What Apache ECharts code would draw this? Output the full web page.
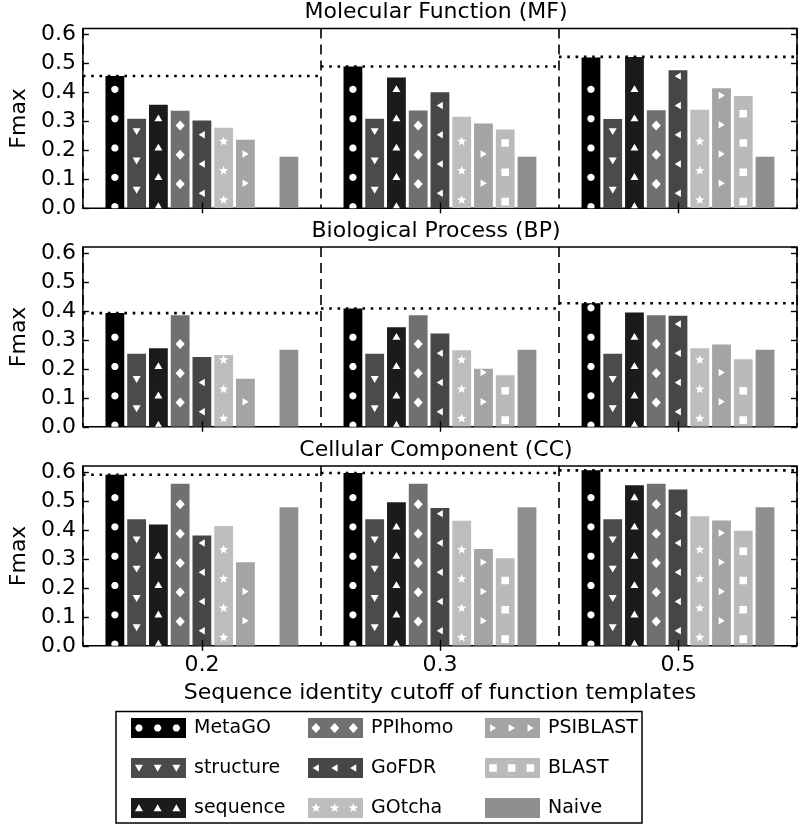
<!DOCTYPE html>
<html><head><meta charset="utf-8">
<script src="https://cdn.jsdelivr.net/npm/echarts@6/dist/echarts.min.js"></script>
<style>html,body{margin:0;padding:0;background:#fff}#c{width:800px;height:826px}</style>
</head><body><div id="c"></div>
<script>
// ---------------- data ----------------
const categories = ['0.2', '0.3', '0.5'];
const methods = ['MetaGO', 'structure', 'sequence', 'PPIhomo', 'GoFDR', 'GOtcha', 'PSIBLAST', 'BLAST', 'Naive'];
const panelTitles = ['Molecular Function (MF)', 'Biological Process (BP)', 'Cellular Component (CC)'];
const yAxisName = 'Fmax';
const xAxisName = 'Sequence identity cutoff of function templates';
const yMin = 0, yMax = 0.62, yStep = 0.1;

// rows follow `methods`, columns follow `categories`
const mfScores = [
  [0.456, 0.489, 0.520],
  [0.309, 0.309, 0.308],
  [0.357, 0.451, 0.522],
  [0.336, 0.337, 0.338],
  [0.303, 0.400, 0.476],
  [0.278, 0.316, 0.340],
  [0.236, 0.292, 0.414],
  [0.000, 0.272, 0.387],
  [0.178, 0.178, 0.178]
];
const bpScores = [
  [0.392, 0.408, 0.426],
  [0.252, 0.252, 0.252],
  [0.271, 0.343, 0.394],
  [0.385, 0.385, 0.385],
  [0.241, 0.322, 0.383],
  [0.248, 0.264, 0.271],
  [0.166, 0.200, 0.284],
  [0.000, 0.178, 0.233],
  [0.266, 0.266, 0.266]
];
const ccScores = [
  [0.590, 0.596, 0.605],
  [0.436, 0.436, 0.436],
  [0.418, 0.495, 0.554],
  [0.559, 0.559, 0.559],
  [0.380, 0.475, 0.539],
  [0.413, 0.431, 0.447],
  [0.288, 0.334, 0.432],
  [0.000, 0.302, 0.397],
  [0.478, 0.478, 0.478]
];
const panels = [mfScores, bpScores, ccScores];

// ---------------- styles ----------------
const FONT = 'DejaVu Sans';
const colors = ['#000000', '#4b4b4b', '#1b1b1b', '#707070', '#464646', '#bdbdbd', '#a4a4a4', '#bababa', '#8f8f8f'];
const markerTypes = ['circle', 'triDown', 'triUp', 'diamond', 'triLeft', 'star', 'triRight', 'square', null];
const markerPhase = [1.7, 18.3, 2.3, 24.3, 15, 8.3, 25, 6.7, 0]; // px above baseline
const markerHalf = [3.6, 3.6, 3.6, 5, 3.7, 5, 3.7, 3.9, 0];
const gridTops = [28.5, 247, 466];
const gridH = 179.8, gridLeft = 75, gridW = 722;

function markerPoints(type, cx, cy) {
  let pts = [];
  switch (type) {
    case 'circle':
      for (let i = 0; i < 20; i++) { const a = i / 20 * Math.PI * 2; pts.push([cx + 3.6 * Math.cos(a), cy + 3.6 * Math.sin(a)]); }
      break;
    case 'triDown': pts = [[cx - 4, cy - 3.2], [cx + 4, cy - 3.2], [cx, cy + 3.7]]; break;
    case 'triUp': pts = [[cx, cy - 3.7], [cx + 4, cy + 3.2], [cx - 4, cy + 3.2]]; break;
    case 'diamond': pts = [[cx, cy - 5], [cx + 4.6, cy], [cx, cy + 5], [cx - 4.6, cy]]; break;
    case 'triLeft': pts = [[cx - 3.3, cy], [cx + 2.9, cy - 3.7], [cx + 2.9, cy + 3.7]]; break;
    case 'triRight': pts = [[cx + 3.3, cy], [cx - 2.9, cy + 3.7], [cx - 2.9, cy - 3.7]]; break;
    case 'star':
      for (let i = 0; i < 10; i++) {
        const a = -Math.PI / 2 + i * Math.PI / 5, r = i % 2 ? 2.1 : 5;
        pts.push([cx + r * Math.cos(a), cy + r * Math.sin(a)]);
      }
      break;
    case 'square': pts = [[cx - 3.8, cy - 3.8], [cx + 3.8, cy - 3.8], [cx + 3.8, cy + 3.8], [cx - 3.8, cy + 3.8]]; break;
  }
  return pts;
}

function barRenderer(mIdx) {
  return function (params, api) {
    const cat = api.value(0), v = api.value(1);
    if (!(v > 0)) return null;
    const p0 = api.coord([cat, 0]);
    const p1 = api.coord([cat, v]);
    const band = api.size([1, 0])[0];
    const pitch = band * 0.0914, w = band * 0.079;
    const cx = p0[0] + (mIdx - 4) * pitch;
    const children = [{
      type: 'rect',
      shape: { x: cx - w / 2, y: p1[1], width: w, height: p0[1] - p1[1] },
      style: { fill: colors[mIdx] }
    }];
    const mk = markerTypes[mIdx];
    if (mk) {
      const step = api.size([0, 0.101])[1];
      for (let h = markerPhase[mIdx]; p0[1] - h - markerHalf[mIdx] >= p1[1]; h += step) {
        children.push({ type: 'polygon', shape: { points: markerPoints(mk, cx, p0[1] - h) }, style: { fill: '#fff' } });
      }
    }
    return { type: 'group', children: children };
  };
}

function bestRenderer(params, api) {
  const p = api.coord([api.value(0), api.value(1)]);
  const band = api.size([1, 0])[0];
  return {
    type: 'line',
    shape: { x1: p[0] - band / 2, y1: p[1], x2: p[0] + band / 2, y2: p[1] },
    style: { stroke: '#000', lineWidth: 2.6, lineDash: [2.6, 5.7] }
  };
}

// legend icon: rectangle with marker-shaped holes (counter-clockwise holes)
const ICON_W = 55, ICON_H = 20;
function iconPath(mIdx) {
  let d = 'M0 0H' + ICON_W + 'V' + ICON_H + 'H0Z';
  const mk = markerTypes[mIdx];
  if (mk) {
    [0.09, 0.43, 0.77].forEach(function (f) {
      let pts = markerPoints(mk, f * ICON_W + 3, ICON_H / 2);
      let s = 0;
      for (let i = 0; i < pts.length; i++) { const a = pts[i], b = pts[(i + 1) % pts.length]; s += a[0] * b[1] - b[0] * a[1]; }
      if (s > 0) pts = pts.slice().reverse();
      d += 'M' + pts.map(p => p[0].toFixed(2) + ' ' + p[1].toFixed(2)).join('L') + 'Z';
    });
  }
  return 'path://' + d;
}

// ---------------- option ----------------
const grid = [], xAxis = [], yAxis = [], series = [], title = [];
panels.forEach(function (scores, g) {
  grid.push({ left: gridLeft, top: gridTops[g], width: gridW, height: gridH, show: true, borderColor: '#000', borderWidth: 1.5, backgroundColor: 'transparent' });
  title.push({
    text: panelTitles[g], left: gridLeft + gridW / 2, top: gridTops[g] - 27, textAlign: 'center', padding: 0,
    textStyle: { fontFamily: FONT, fontSize: 22, fontWeight: 'normal', color: '#000' }
  });
  const isLast = g === panels.length - 1;
  xAxis.push({
    type: 'category', data: categories, gridIndex: g, position: 'bottom', z: 10,
    axisLine: { show: false },
    axisTick: { show: true, inside: true, alignWithLabel: true, length: 6, lineStyle: { color: '#000', width: 1.4 } },
    axisLabel: { show: isLast, color: '#000', fontFamily: FONT, fontSize: 22, margin: 8 },
    splitLine: { show: true, interval: 0, lineStyle: { color: '#000', width: 1.6, type: [10, 6] } },
    name: isLast ? xAxisName : '', nameLocation: 'middle', nameGap: 36,
    nameTextStyle: { color: '#000', fontFamily: FONT, fontSize: 22 }
  });
  xAxis.push({
    type: 'category', data: categories, gridIndex: g, position: 'top', z: 10,
    axisLine: { show: false },
    axisTick: { show: true, inside: true, alignWithLabel: true, length: 5, lineStyle: { color: '#000', width: 1.4 } },
    axisLabel: { show: false }, splitLine: { show: false }
  });
  yAxis.push({
    type: 'value', gridIndex: g, min: yMin, max: yMax, interval: yStep, position: 'left', z: 10,
    axisLine: { show: false },
    axisTick: { show: true, inside: true, length: 6, lineStyle: { color: '#000', width: 1.4 } },
    axisLabel: { color: '#000', fontFamily: FONT, fontSize: 22, margin: 7, showMaxLabel: false, formatter: v => v.toFixed(1) },
    splitLine: { show: false },
    name: yAxisName, nameLocation: 'middle', nameGap: 51,
    nameTextStyle: { color: '#000', fontFamily: FONT, fontSize: 22 }
  });
  yAxis.push({
    type: 'value', gridIndex: g, min: yMin, max: yMax, interval: yStep, position: 'right', z: 10,
    axisLine: { show: false },
    axisTick: { show: true, inside: true, length: 6, lineStyle: { color: '#000', width: 1.4 } },
    axisLabel: { show: false }, splitLine: { show: false }
  });
  methods.forEach(function (name, m) {
    series.push({
      type: 'custom', name: name, xAxisIndex: 2 * g, yAxisIndex: 2 * g, clip: true, z: 3,
      itemStyle: { color: colors[m] },
      encode: { x: 0, y: 1 },
      data: categories.map((c, i) => [i, scores[m][i]]),
      renderItem: barRenderer(m)
    });
  });
  series.push({
    type: 'custom', name: 'best', xAxisIndex: 2 * g, yAxisIndex: 2 * g, z: 6, silent: true,
    encode: { x: 0, y: 1 },
    data: categories.map((c, i) => [i, Math.max.apply(null, scores.map(r => r[i]))]),
    renderItem: bestRenderer
  });
});

const legendCols = [131, 308, 485];
const legend = legendCols.map(function (x, col) {
  return {
    orient: 'vertical', left: x, top: 718, padding: 0, itemGap: 20,
    itemWidth: ICON_W, itemHeight: ICON_H, selectedMode: false,
    itemStyle: { borderWidth: 0 },
    textStyle: { color: '#000', fontFamily: FONT, fontSize: 19, lineHeight: 20, padding: [0, 0, 0, 3] },
    data: methods.slice(col * 3, col * 3 + 3).map((n, k) => ({ name: n, icon: iconPath(col * 3 + k) }))
  };
});

const option = {
  animation: false,
  backgroundColor: '#fff',
  textStyle: { fontFamily: FONT },
  title: title,
  grid: grid, xAxis: xAxis, yAxis: yAxis, series: series, legend: legend,
  graphic: [{
    type: 'rect', shape: { x: 116, y: 711.5, width: 526, height: 111.5 },
    style: { fill: 'none', stroke: '#000', lineWidth: 1.5 }, silent: true
  }]
};
const chart = echarts.init(document.getElementById('c'), null, { renderer: 'canvas' });
chart.setOption(option);
</script></body></html>
